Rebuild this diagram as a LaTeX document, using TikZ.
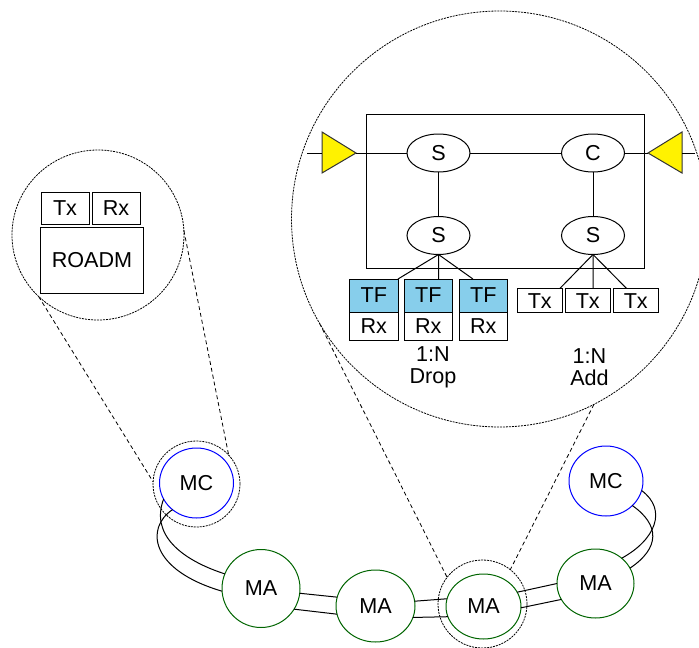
\documentclass[tikz,border=0pt]{standalone}
\usepackage{fontspec}
\setmainfont{Liberation Sans}
\usetikzlibrary{shapes.geometric}
\definecolor{tfblue}{RGB}{135,206,235}
\definecolor{magreen}{RGB}{0,100,0}
\tikzset{
  base/.style={draw=black,line width=1pt,inner sep=0pt,outer sep=0pt,text=black,font=\fontsize{21.6}{23}\selectfont},
  box/.style={base,rectangle,text depth=0pt},
  sw/.style={base,ellipse,minimum width=63pt,minimum height=38pt},
  mc/.style={base,ellipse,draw=blue},
  ma/.style={base,ellipse,draw=magreen},
  tf/.style={box,minimum width=48.5pt,minimum height=33pt,fill=tfblue},
  rx/.style={box,minimum width=48.5pt,minimum height=28.5pt},
  tx/.style={box,minimum width=44.5pt,minimum height=24pt},
  zoomc/.style={draw=black,ellipse,line width=0.8pt,dash pattern=on 2pt off 1pt,inner sep=0pt,outer sep=0pt},
  zoomline/.style={black,line width=0.8pt,dash pattern=on 4pt off 3pt},
  fiber/.style={black,line width=1pt},
  amp/.style={draw=black!80,fill=yellow,line width=1pt}
}
\begin{document}
\begin{tikzpicture}[x=1pt,y=-1pt]
\useasboundingbox (0,0) rectangle (699,648);
\clip (0,0) rectangle (699,648);
\node [zoomc,minimum width=172pt,minimum height=170pt] (zoomroadm) at (98,235) {};
\node [zoomc,minimum width=416pt,minimum height=416pt] (zoomnode) at (499.5,219) {};
\node [zoomc,minimum width=87pt,minimum height=86pt] (ringmc) at (196.5,484) {};
\node [zoomc,minimum width=89pt,minimum height=88pt] (ringma) at (482.5,604) {};
\node [box,minimum width=48pt,minimum height=32pt] (txa) at (65,208) {Tx};
\node [box,minimum width=48pt,minimum height=32pt] (rxa) at (116,208) {Rx};
\node [box,minimum width=103pt,minimum height=66pt] (roadm) at (92,260) {ROADM};
\node [mc,minimum width=74pt,minimum height=70pt] (mca) at (196.5,483) {MC};
\node [mc,minimum width=74pt,minimum height=70pt] (mcb) at (606,481) {MC};
\node [ma,minimum width=78pt,minimum height=78pt] (maa) at (261,588.5) {MA};
\node [ma,minimum width=79pt,minimum height=72pt] (mab) at (375.5,606) {MA};
\node [ma,minimum width=75pt,minimum height=65pt] (mac) at (483.5,606.5) {MA};
\node [ma,minimum width=77pt,minimum height=69pt] (mad) at (595.5,583.5) {MA};
\draw [fiber] (mca.206) .. controls (150,535) and (182,560) .. (maa.158);
\draw [fiber] (mca.228) .. controls (145,528) and (150,570) .. (maa.184);
\draw [fiber] (maa.-7) -- (mab.167);
\draw [fiber] (maa.-32) -- (mab.192);
\draw [fiber] (mab.7) -- (mac.168);
\draw [fiber] (mab.-17) -- (mac.196);
\draw [fiber] (mac.23) -- (mad.180);
\draw [fiber] (mac.-2) -- (mad.205);
\draw [fiber] (mad.44) .. controls (655,540) and (668,510) .. (mcb.-15);
\draw [fiber] (mad.24) .. controls (660,548) and (660,525) .. (mcb.-43);
\draw [zoomline] (zoomroadm.226) -- (ringmc.177);
\draw [zoomline] (zoomroadm.3) -- (ringmc.42);
\draw [zoomline] (zoomnode.210.7) -- (ringma.143);
\draw [zoomline] (zoomnode.-63) -- (ringma.51);
\node [box,minimum width=277.5pt,minimum height=154pt] (frame) at (505.5,191.3) {};
\node [sw] (sa) at (438.5,153) {S};
\node [sw] (sb) at (438.5,235.5) {S};
\node [sw] (cc) at (593,153) {C};
\node [sw] (sc) at (593,235.5) {S};
\node [tf] (tfa) at (373.75,295.5) {TF};
\node [tf] (tfb) at (428.25,295.5) {TF};
\node [tf] (tfc) at (483.25,295.5) {TF};
\node [rx] (rxb) at (373.75,326.5) {Rx};
\node [rx] (rxc) at (428.25,326.5) {Rx};
\node [rx] (rxd) at (483.25,326.5) {Rx};
\node [tx] (txb) at (539.75,300.6) {Tx};
\node [tx] (txc) at (587.75,300.6) {Tx};
\node [tx] (txd) at (635.75,300.6) {Tx};
\node [align=center,inner sep=0pt,font=\fontsize{21.6}{21}\selectfont] (droplabel) at (433,367.5) {1:N\\[1pt]Drop};
\node [align=center,inner sep=0pt,font=\fontsize{21.6}{21}\selectfont] (addlabel) at (589.5,367.5) {1:N\\[1pt]Add};
\coordinate (ampain) at (322,153);
\coordinate (ampaout) at (356,153);
\coordinate (ampbout) at (648,153);
\coordinate (ampbin) at (682,153);
\coordinate (linea) at (307,153);
\coordinate (lineb) at (695,153);
\draw [amp] (322,132) -- (322,173) -- (ampaout) -- cycle;
\draw [amp] (682,132) -- (682,173) -- (ampbout) -- cycle;
\draw [fiber] (linea) -- (ampain);
\draw [fiber] (ampaout) -- (sa);
\draw [fiber] (sa) -- (cc);
\draw [fiber] (cc) -- (ampbout);
\draw [fiber] (ampbin) -- (lineb);
\draw [fiber] (sa) -- (sb);
\draw [fiber] (cc) -- (sc);
\draw [fiber] (sb.south) -- (tfa.north east);
\draw [fiber] (sb.south) -- (tfb.58);
\draw [fiber] (sb.south) -- (tfc.122);
\draw [fiber] (sc.south) -- (txb.31.6);
\draw [fiber] (sc.south) -- (txc.66);
\draw [fiber] (sc.south) -- (txd.127);
\end{tikzpicture}
\end{document}
